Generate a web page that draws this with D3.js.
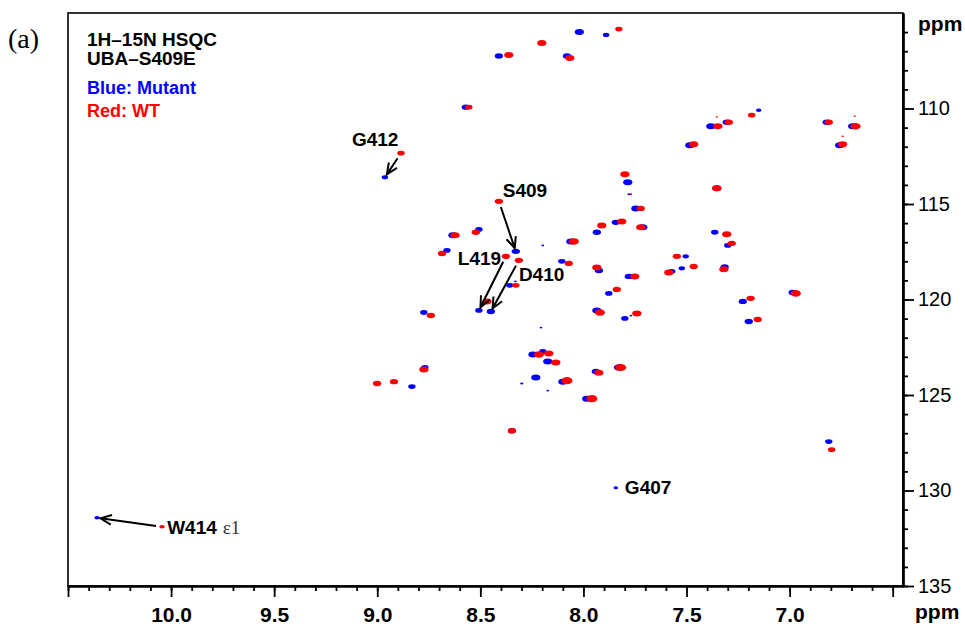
<!DOCTYPE html>
<html>
<head>
<meta charset="utf-8" />
<style>
  body { margin: 0; background: #ffffff; }
  svg text { font-family: "Liberation Sans", Arial, sans-serif; }
  .axis path, .axis line { stroke: #000; }
</style>
</head>
<body>
<div id="chart"></div>
<script src="https://d3js.org/d3.v7.min.js"></script>
<script>
// peaks: [1H ppm, 15N ppm, relative intensity]
var mutantPeaks = [
  [8.02,106.0,1], [7.89,106.15,0.7], [8.41,107.25,0.9], [8.08,107.25,0.9],
  [8.57,109.93,0.9], [8.963,113.6,0.7], [7.785,113.86,1], [7.382,110.93,1],
  [7.305,110.72,0.9], [7.15,110.09,0.6], [7.484,111.92,1], [6.82,110.72,0.9],
  [6.694,110.93,1], [6.757,111.92,1], [8.328,117.48,0.9], [7.746,115.23,1],
  [7.843,115.96,0.9], [7.935,116.48,0.9], [7.712,116.22,1], [8.633,116.64,1],
  [8.507,116.33,0.8], [8.662,117.43,0.8], [8.197,117.17,0.3], [8.061,116.96,1],
  [8.507,120.57,0.8], [8.449,120.63,0.9], [8.105,118.0,0.8], [7.925,118.48,0.9],
  [7.78,118.79,0.9], [7.877,119.68,0.8], [8.357,119.26,0.8], [8.774,120.68,0.8],
  [7.935,120.57,1], [7.799,120.99,0.8], [8.206,121.47,0.3], [7.78,114.49,0.3],
  [7.353,114.18,1], [7.363,116.48,0.8], [7.30,117.17,0.8], [7.504,117.74,0.7],
  [7.572,118.53,0.8], [7.523,118.37,0.7], [7.315,118.3,0.9], [6.985,119.63,0.9],
  [7.227,120.10,0.9], [7.198,121.15,0.9], [8.769,123.56,0.8], [8.832,124.56,0.8],
  [8.245,122.88,1], [8.197,122.72,0.8], [8.173,123.25,1], [8.299,124.40,0.35],
  [8.231,124.09,1], [8.173,124.77,0.3], [8.100,124.30,1], [8.347,126.87,0.9],
  [7.94,123.77,0.9], [7.828,123.56,1.1], [7.984,125.19,1], [6.81,127.44,0.8],
  [7.843,129.86,0.5], [10.359,131.43,0.6], [8.33,119.05,0.3], [7.77,120.84,0.3]
];

var wtPeaks = [
  [7.828,105.84,0.8], [8.202,106.57,1], [8.362,107.2,1], [8.066,107.36,1],
  [8.556,109.93,0.8], [8.885,112.34,0.8], [7.799,113.44,1], [7.348,110.93,1],
  [7.353,110.45,0.25], [7.295,110.72,0.9], [7.184,110.35,0.8], [7.465,111.87,1],
  [7.353,114.18,1], [6.81,110.72,0.9], [6.68,110.93,1.1], [6.684,110.40,0.25],
  [6.743,111.87,1], [6.743,111.45,0.25], [8.41,114.86,0.9], [7.722,115.23,0.9],
  [7.814,115.91,1], [7.911,116.12,1], [7.722,116.22,1], [8.623,116.64,1],
  [8.522,116.48,0.9], [8.686,117.59,0.9], [8.047,116.96,1.1], [8.376,117.74,0.9],
  [8.313,117.95,0.9], [8.468,120.10,1], [8.071,118.11,0.9], [7.935,118.32,1],
  [7.751,118.79,1], [7.838,119.47,0.9], [8.328,119.26,0.8], [8.74,120.84,0.9],
  [7.92,120.68,1.1], [7.741,120.73,1], [7.305,116.59,1], [7.281,117.06,0.9],
  [7.547,117.74,0.9], [7.586,118.58,1], [7.465,118.27,0.9], [7.319,118.42,1],
  [6.97,119.68,1.1], [7.189,119.94,0.9], [7.155,121.05,0.9], [8.774,123.67,1],
  [9.001,124.40,0.9], [8.919,124.30,0.9], [8.216,122.88,1.1], [8.168,122.83,1],
  [8.134,123.30,1], [8.08,124.25,1.2], [8.347,126.87,0.9], [7.925,123.83,1],
  [7.819,123.56,1.2], [7.959,125.19,1.2], [6.796,127.86,0.8], [10.044,131.90,0.6],
  [7.77,114.49,0.3]
];

// assignments
var residueLabels = ["G412", "S409", "L419", "D410", "W414", "G407"];
var labelAt = [[9.123,111.97], [8.391,114.65], [8.609,118.21], [8.313,119.05], [10.019,132.27], [7.799,130.17]];
// arrows WT -> mutant
var arrowFrom = [[8.885,112.34], [8.41,114.86], [8.376,117.74], [8.313,117.95], [10.044,131.90]];
var arrowTo   = [[8.963,113.6],  [8.328,117.48], [8.507,120.57], [8.449,120.63], [10.359,131.43]];

var xMajor = [10.5, 10.0, 9.5, 9.0, 8.5, 8.0, 7.5, 7.0, 6.5];
var xMajorLabels = ["", "10.0", "9.5", "9.0", "8.5", "8.0", "7.5", "7.0", ""];
var yMajor = [110, 115, 120, 125, 130, 135];
var yMajorLabels = ["110", "115", "120", "125", "130", "135"];

var width = 965, height = 628;
var pLeft = 68, pRight = 903, pTop = 13, pBottom = 586;

var svg = d3.select('#chart').append('svg')
  .attr('width', width)
  .attr('height', height);

var x = d3.scaleLinear().domain([10.5, 6.45]).range([pLeft, pRight]);
var y = d3.scaleLinear().domain([105, 135]).range([pTop, pBottom]);
var rx = d3.scaleLinear().domain([0, 1]).range([0, 4.6]);
var ry = d3.scaleLinear().domain([0, 1]).range([0, 3.0]);

// frame
svg.append('rect')
  .attr('x', pLeft).attr('y', pTop)
  .attr('width', pRight - pLeft).attr('height', pBottom - pTop)
  .attr('fill', 'none').attr('stroke', '#000').attr('stroke-width', 1.6);

// peaks: mutant first, WT on top
function drawPeaks(data, color) {
  svg.append('g').selectAll('ellipse')
    .data(data)
    .enter().append('ellipse')
    .attr('cx', function(d) { return x(d[0]); })
    .attr('cy', function(d) { return y(d[1]); })
    .attr('rx', function(d) { return rx(d[2]); })
    .attr('ry', function(d) { return ry(d[2]); })
    .attr('fill', color);
}
drawPeaks(mutantPeaks, '#0000ff');
drawPeaks(wtPeaks, '#ff0000');

// arrows
var arrows = svg.append('g');
arrowFrom.forEach(function(f, i) {
  var x0 = x(f[0]), y0 = y(f[1]), x1 = x(arrowTo[i][0]), y1 = y(arrowTo[i][1]);
  var a = Math.atan2(y1 - y0, x1 - x0);
  var sx = x0 + Math.cos(a) * 6, sy = y0 + Math.sin(a) * 6;
  var ex = x1 - Math.cos(a) * 3.5, ey = y1 - Math.sin(a) * 3.5;
  arrows.append('line')
    .attr('x1', sx).attr('y1', sy).attr('x2', ex).attr('y2', ey)
    .attr('stroke', '#000').attr('stroke-width', 2);
  var hl = 12, ha = 0.42;
  var p = d3.path();
  p.moveTo(ex - hl * Math.cos(a - ha), ey - hl * Math.sin(a - ha));
  p.lineTo(ex, ey);
  p.lineTo(ex - hl * Math.cos(a + ha), ey - hl * Math.sin(a + ha));
  arrows.append('path').attr('d', p.toString())
    .attr('fill', 'none').attr('stroke', '#000').attr('stroke-width', 2);
});

// residue labels
residueLabels.forEach(function(t, i) {
  var txt = svg.append('text')
    .attr('x', x(labelAt[i][0]))
    .attr('y', y(labelAt[i][1]))
    .attr('font-size', 19).attr('font-weight', 'bold')
    .text(t);
  if (t == "W414") {
    txt.append('tspan')
      .style('font-family', '"Liberation Serif", serif')
      .attr('font-weight', 'normal')
      .attr('fill', '#333')
      .attr('dx', 6)
      .text('\u03b51');
  }
});

// axes
var xAxisMinor = d3.axisBottom(x).tickValues(d3.range(65, 106).map(function(d) { return d / 10; }))
  .tickSize(5).tickSizeOuter(0).tickFormat('');
var xAxis = d3.axisBottom(x).tickValues(xMajor).tickSize(11).tickSizeOuter(0).tickPadding(10)
  .tickFormat(function(d, i) { return xMajorLabels[i]; });
var yAxisMinor = d3.axisRight(y).tickValues(d3.range(106, 136))
  .tickSize(5).tickSizeOuter(0).tickFormat('');
var yAxis = d3.axisRight(y).tickValues(yMajor).tickSize(11).tickSizeOuter(0).tickPadding(4)
  .tickFormat(function(d, i) { return yMajorLabels[i]; });

svg.append('g').attr('class', 'axis').attr('transform', 'translate(0,' + pBottom + ')').call(xAxisMinor);
var gx = svg.append('g').attr('class', 'axis').attr('transform', 'translate(0,' + pBottom + ')').call(xAxis);
svg.append('g').attr('class', 'axis').attr('transform', 'translate(' + pRight + ',0)').call(yAxisMinor);
var gy = svg.append('g').attr('class', 'axis').attr('transform', 'translate(' + pRight + ',0)').call(yAxis);

svg.selectAll('.axis path.domain').attr('stroke-width', 2.2);
svg.selectAll('.axis line').attr('stroke-width', 1.8);
gx.selectAll('text').attr('font-size', 21).attr('font-weight', 'bold')
  .attr('font-family', '"Liberation Sans", Arial, sans-serif').attr('fill', '#000');
gy.selectAll('text').attr('font-size', 20)
  .attr('font-family', '"Liberation Sans", Arial, sans-serif').attr('fill', '#000');

// axis units
svg.append('text').attr('x', 918).attr('y', 31).attr('font-size', 21).attr('font-weight', 'bold').text('ppm');
svg.append('text').attr('x', 915).attr('y', 619).attr('font-size', 21).attr('font-weight', 'bold').text('ppm');

// panel tag and legend
svg.append('text').attr('x', 8).attr('y', 48)
  .style('font-family', '"Liberation Serif", serif').attr('font-size', 28).text('(a)');
var legendLines = [
  { t: '1H\u201315N HSQC', c: '#000', y: 46, s: 19 },
  { t: 'UBA\u2013S409E', c: '#000', y: 65, s: 19 },
  { t: 'Blue: Mutant', c: '#0000ff', y: 94, s: 18 },
  { t: 'Red: WT', c: '#ff0000', y: 117, s: 18 }
];
legendLines.forEach(function(l) {
  svg.append('text').attr('x', 87).attr('y', l.y)
    .attr('font-size', l.s).attr('font-weight', 'bold')
    .attr('fill', l.c).text(l.t);
});
</script>
</body>
</html>
